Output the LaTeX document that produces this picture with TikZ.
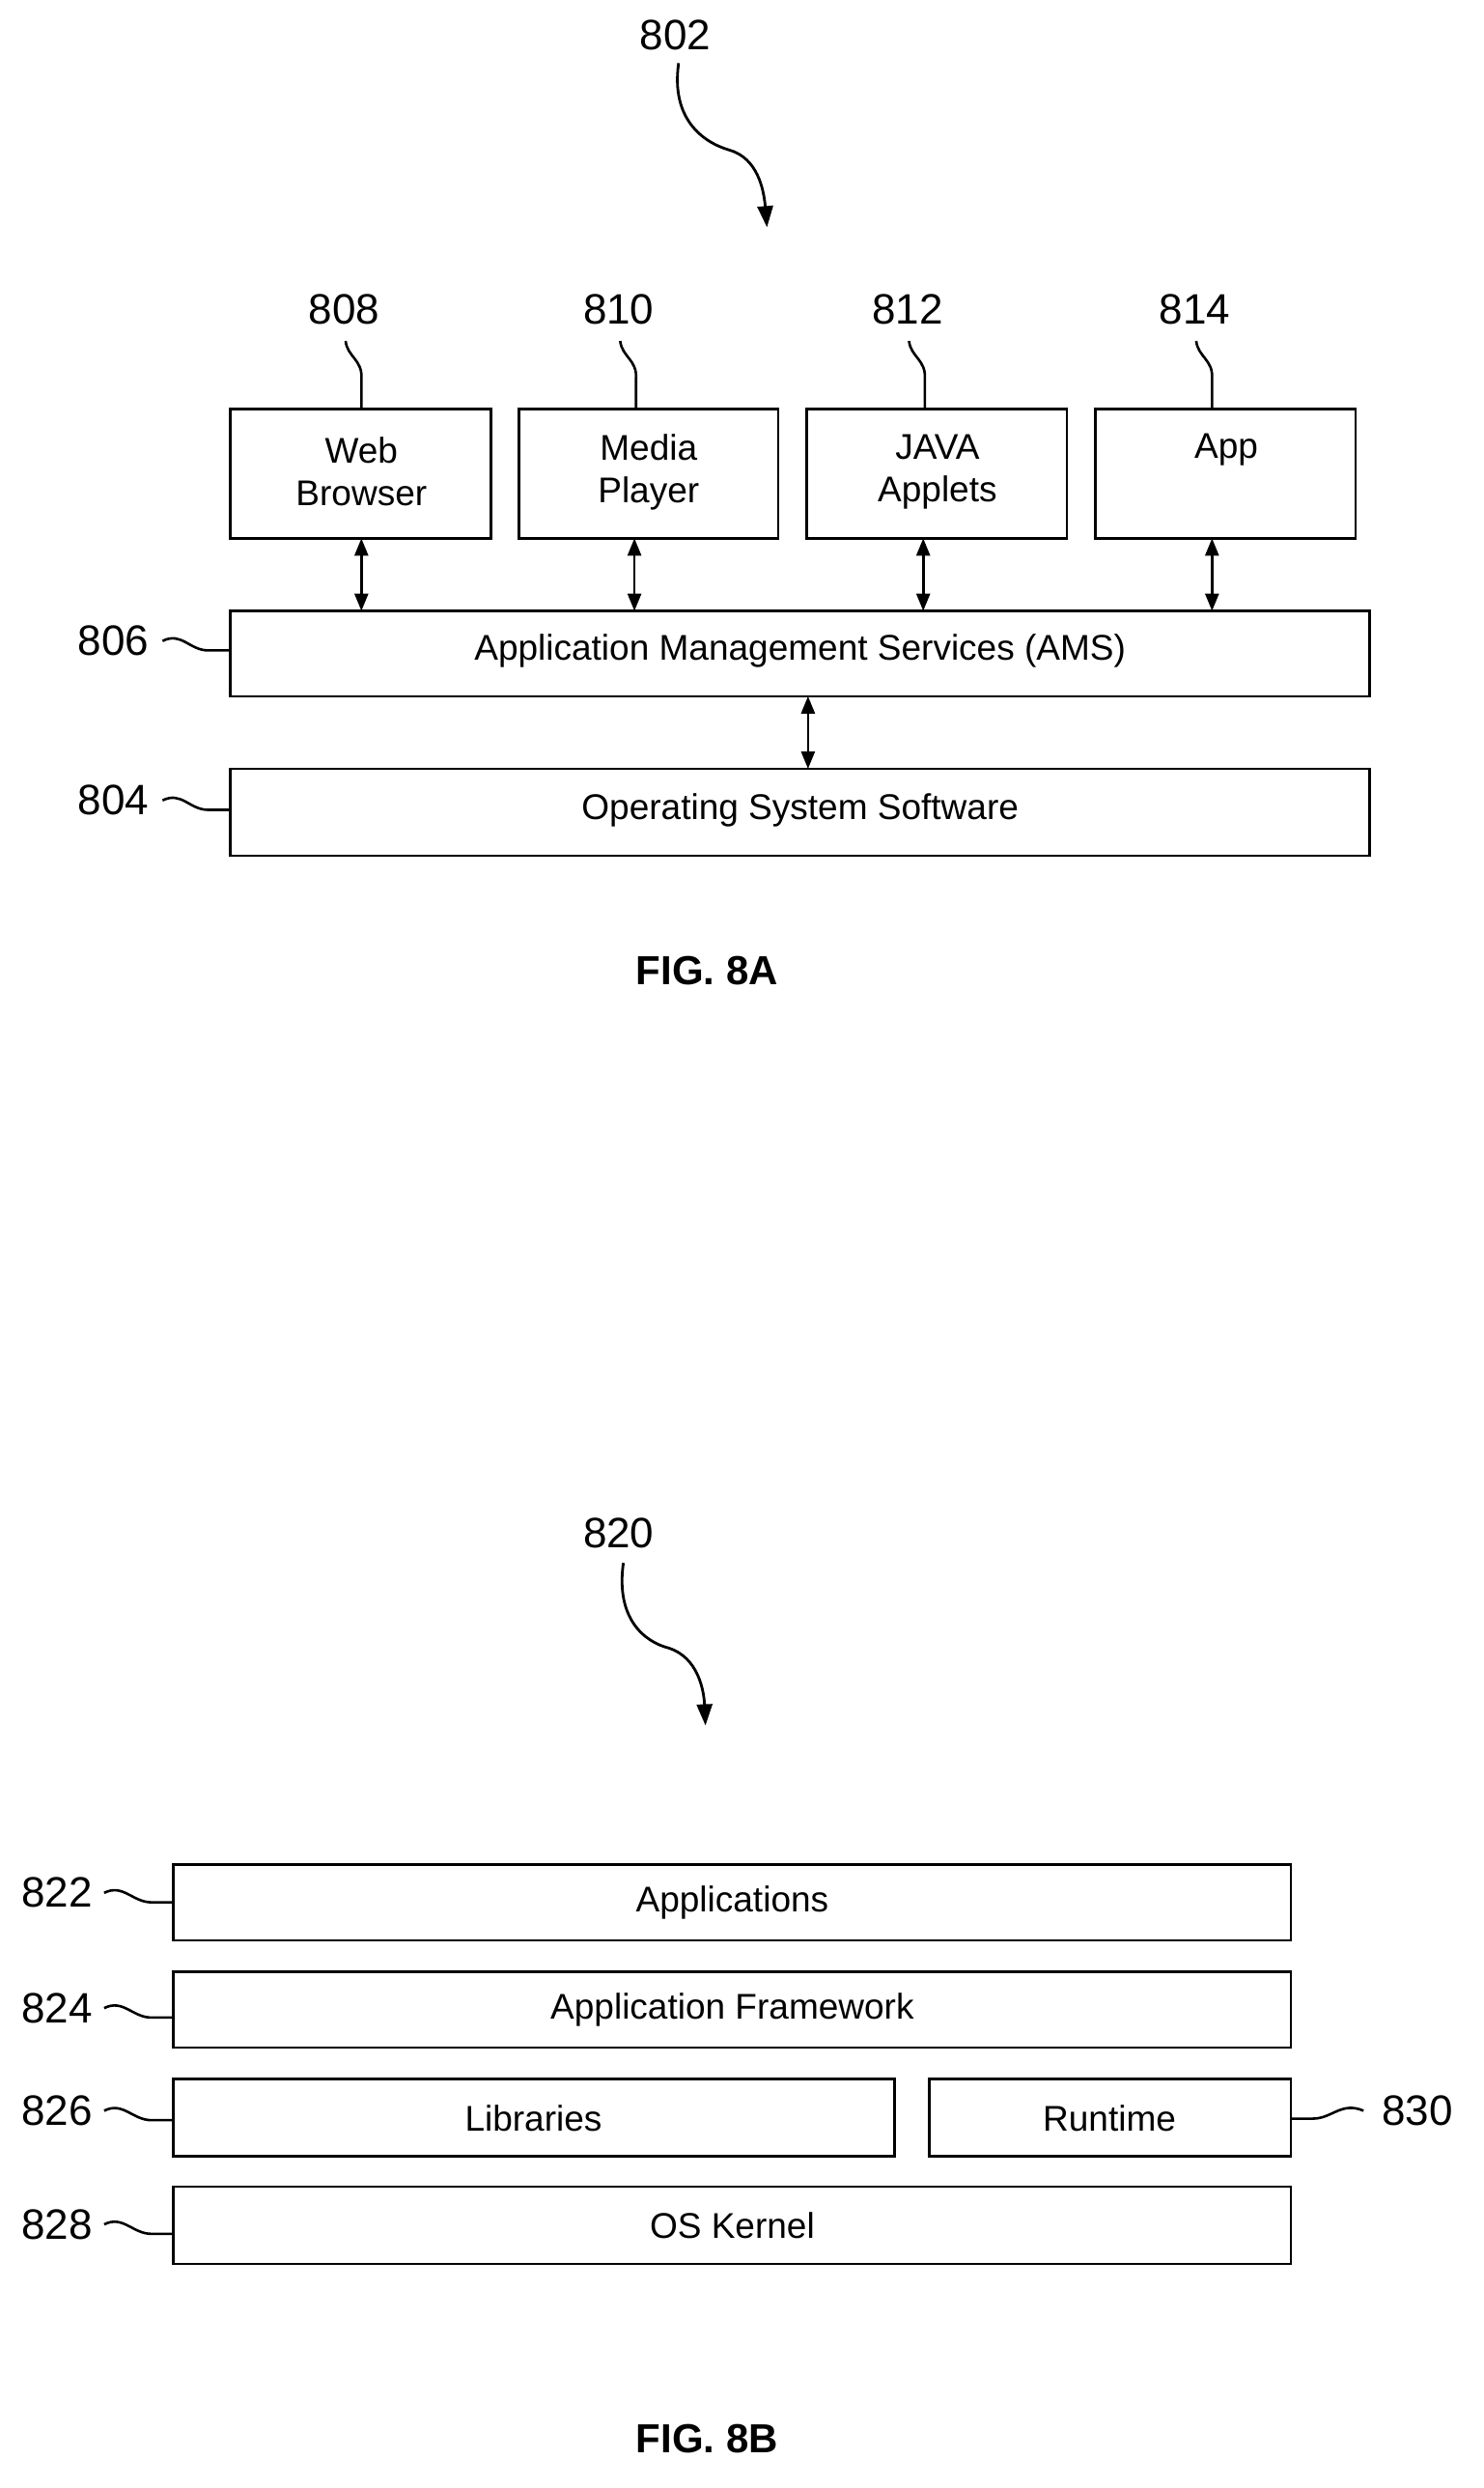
\documentclass[tikz,border=0pt]{standalone}
\usepackage{fontspec}
\setmainfont{Liberation Sans}
\usetikzlibrary{arrows.meta}
\begin{document}
\begin{tikzpicture}[x=1.634pt,y=-1.634pt,
  box/.style={draw,line width=2.6pt,inner sep=0pt},
  txt/.style={font=\fontsize{37}{44}\selectfont,align=center},
  num/.style={font=\fontsize{44}{50}\selectfont},
  lead/.style={line width=2.6pt},
  dbl/.style={line width=2.6pt,{Triangle[length=18pt,width=14pt]}-{Triangle[length=18pt,width=14pt]}},
  big/.style={line width=2.8pt,-{Triangle[length=22pt,width=16pt]}},
  fig/.style={font=\bfseries\fontsize{42}{48}\selectfont}]
\useasboundingbox (0,0) rectangle (940,1576);
% FIG 8A
\node[num] (n802) at (428,22) {802};
\coordinate (a802) at (486,144);
\draw[big] (430,40) .. controls (425,75) and (445,90) .. (462,95) .. controls (480,100) and (484,120) .. (a802);
\draw[box] (146,259) rectangle (311,341); \node[txt] (wb) at (229,299) {Web\\Browser};
\draw[box] (329,259) rectangle (493,341); \node[txt] (mp) at (411,299) {Media\\Player};
\draw[box] (511,259) rectangle (676,341); \node[txt] (ja) at (594,299) {JAVA\\Applets};
\draw[box] (694,259) rectangle (859,341); \node[txt] (ap) at (777,285) {App};
\draw[box] (146,387) rectangle (868,441); \node[txt] (ams) at (507,412) {Application Management Services (AMS)};
\draw[box] (146,487) rectangle (868,542); \node[txt] (os) at (507,513) {Operating System Software};
\coordinate (t1) at (229,341); \coordinate (b1) at (229,387);
\coordinate (t2) at (402,341); \coordinate (b2) at (402,387);
\coordinate (t3) at (585,341); \coordinate (b3) at (585,387);
\coordinate (t4) at (768,341); \coordinate (b4) at (768,387);
\coordinate (t5) at (512,441); \coordinate (b5) at (512,487);
\foreach \i in {1,...,5} \draw[dbl] (t\i) -- (b\i);
\foreach \l/\x in {808/218,810/392,812/575,814/757}{
  \node[num] (n\l) at (\x,196) {\l};
  \draw[lead] (\x+1,216) .. controls (\x+2,226) and (\x+12,228) .. (\x+11,240) -- (\x+11,259);}
\node[num] (n806) at (72,406) {806};
\draw[lead] (103,406) .. controls (115,400) and (120,412) .. (132,412) -- (146,412);
\node[num] (n804) at (72,507) {804};
\draw[lead] (103,507) .. controls (115,501) and (120,513) .. (132,513) -- (146,513);
\node[fig] (f8a) at (448,615) {FIG. 8A};
% FIG 8B
\node[num] (n820) at (392,971) {820};
\coordinate (a820) at (447,1093);
\draw[big] (395,990) .. controls (390,1025) and (408,1040) .. (424,1044) .. controls (442,1050) and (446,1070) .. (a820);
\draw[box] (110,1181) rectangle (818,1229); \node[txt] (apps) at (464,1205) {Applications};
\draw[box] (110,1249) rectangle (818,1297); \node[txt] (fw) at (464,1273) {Application Framework};
\draw[box] (110,1317) rectangle (567,1366); \node[txt] (lib) at (338,1342) {Libraries};
\draw[box] (589,1317) rectangle (818,1366); \node[txt] (rt) at (703,1342) {Runtime};
\draw[box] (110,1385) rectangle (818,1434); \node[txt] (ker) at (464,1410) {OS Kernel};
\foreach \l/\y in {822/1199,824/1272,826/1337,828/1409}{
  \node[num] (n\l) at (36,\y) {\l};
  \draw[lead] (66,\y) .. controls (78,\y-6) and (84,\y+6) .. (96,\y+6) -- (110,\y+6);}
\node[num] (n830) at (898,1337) {830};
\draw[lead] (818,1342) -- (832,1342) .. controls (844,1342) and (850,1331) .. (864,1337);
\node[fig] (f8b) at (448,1545) {FIG. 8B};
\end{tikzpicture}
\end{document}
